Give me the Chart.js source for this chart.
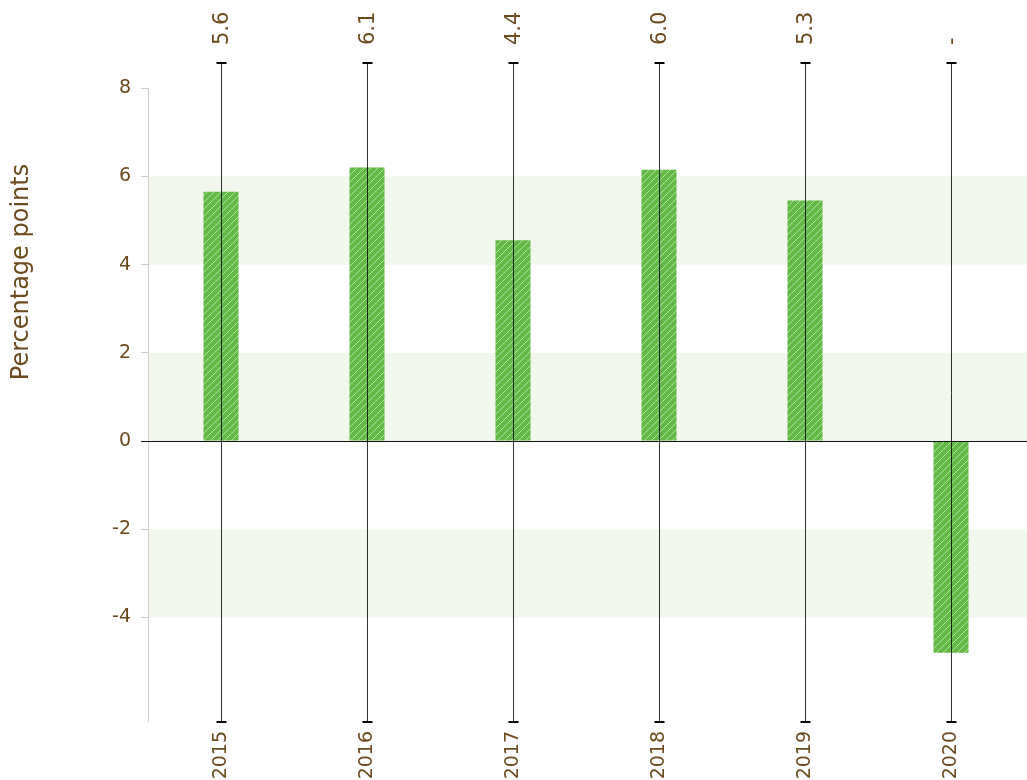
<!DOCTYPE html>
<html>
<head>
<meta charset="utf-8">
<script src="https://cdn.jsdelivr.net/npm/chart.js@4"></script>
<style>
  body { margin: 0; background: #fff; }
  #wrap { width: 1027px; height: 780px; position: relative; }
</style>
</head>
<body>
<div id="wrap"><canvas id="growthChart"></canvas></div>
<script>
// data
const years = ['2015', '2016', '2017', '2018', '2019', '2020'];
const growth = [5.65, 6.2, 4.55, 6.15, 5.45, -4.8];
const topLabels = ['5.6', '6.1', '4.4', '6.0', '5.3', '-'];
const yTicks = [-4, -2, 0, 2, 4, 6, 8];
const bandFrom = [4, 0, -4];
const bandTo = [6, 2, -2];

const brown = '#6b4a1e';
const fontFamily = "'DejaVu Sans', sans-serif";

// diagonal hatch on the bars
function makeHatch() {
    const c = document.createElement('canvas');
    c.width = 7;
    c.height = 7;
    const p = c.getContext('2d');
    p.fillStyle = '#63b946';
    p.fillRect(0, 0, 7, 7);
    p.strokeStyle = 'rgba(210,240,195,0.7)';
    p.lineWidth = 1;
    p.beginPath();
    p.moveTo(-1, 8);
    p.lineTo(8, -1);
    p.stroke();
    return p.createPattern(c, 'repeat');
}

const ctx = document.getElementById('growthChart').getContext('2d');

// bands, zero line, whiskers and the labels that sit outside the axes
const backdrop = {
    id: 'backdrop',
    beforeDatasetsDraw(chart) {
        const { ctx, chartArea, scales } = chart;
        const y = scales.y;
        ctx.save();
        ctx.fillStyle = '#f2f7ee';
        bandFrom.forEach((from, i) => {
            const top = y.getPixelForValue(bandTo[i]);
            const bottom = y.getPixelForValue(from);
            ctx.fillRect(chartArea.left, top, chart.width - chartArea.left, bottom - top);
        });
        // axis line from 8 down
        ctx.strokeStyle = '#cccccc';
        ctx.lineWidth = 1;
        ctx.beginPath();
        ctx.moveTo(chartArea.left + 0.5, y.getPixelForValue(8));
        ctx.lineTo(chartArea.left + 0.5, chartArea.bottom);
        ctx.stroke();
        ctx.restore();
    },
    afterDatasetsDraw(chart) {
        const { ctx, chartArea, scales } = chart;
        const x = scales.x;
        const y0 = Math.round(scales.y.getPixelForValue(0)) + 0.5;
        ctx.save();
        ctx.strokeStyle = '#111';
        ctx.lineWidth = 1;
        ctx.beginPath();
        ctx.moveTo(chartArea.left - 7, y0);
        ctx.lineTo(chart.width, y0);
        ctx.stroke();
        years.forEach((yr, i) => {
            const px = Math.round(x.getPixelForValue(i)) + 0.5;
            ctx.strokeStyle = 'rgba(0,0,0,0.8)';
            ctx.lineWidth = 1;
            ctx.beginPath();
            ctx.moveTo(px, chartArea.top);
            ctx.lineTo(px, chartArea.bottom);
            ctx.stroke();
            ctx.strokeStyle = '#000';
            ctx.lineWidth = 2;
            ctx.beginPath();
            ctx.moveTo(px - 5, chartArea.top);
            ctx.lineTo(px + 5, chartArea.top);
            ctx.moveTo(px - 5, chartArea.bottom);
            ctx.lineTo(px + 5, chartArea.bottom);
            ctx.stroke();

            // value label above the whisker, reading upwards
            ctx.save();
            ctx.translate(px + 1, chartArea.top - 18);
            ctx.rotate(-Math.PI / 2);
            ctx.fillStyle = brown;
            ctx.font = '21px ' + fontFamily;
            ctx.textAlign = 'left';
            ctx.textBaseline = 'middle';
            ctx.fillText(topLabels[i], 0, 0);
            ctx.restore();
        });
        ctx.restore();
    },
    afterDraw(chart) {
        const { ctx } = chart;
        ctx.save();
        ctx.translate(22, 272);
        ctx.rotate(-Math.PI / 2);
        ctx.fillStyle = brown;
        ctx.font = '24px ' + fontFamily;
        ctx.textAlign = 'center';
        ctx.textBaseline = 'middle';
        ctx.fillText('Percentage points', 0, 0);
        ctx.restore();
    }
};

new Chart(ctx, {
    type: 'bar',
    data: {
        labels: years,
        datasets: [{
            data: growth,
            backgroundColor: makeHatch(),
            borderWidth: 0,
            barPercentage: 0.24,
            categoryPercentage: 1
        }]
    },
    options: {
        responsive: true,
        maintainAspectRatio: false,
        animation: false,
        layout: { padding: { left: 0, right: 3, top: 63, bottom: 0 } },
        plugins: {
            legend: { display: false },
            tooltip: { enabled: false }
        },
        scales: {
            x: {
                position: 'bottom',
                offset: true,
                grid: { display: false },
                border: { display: false },
                ticks: {
                    minRotation: 90,
                    maxRotation: 90,
                    padding: 1,
                    color: brown,
                    font: { family: fontFamily, size: 19 }
                },
                afterFit(scale) { scale.height = 58; }
            },
            y: {
                min: -6.37,
                max: 8.57,
                afterBuildTicks(scale) {
                    scale.ticks = yTicks.map(v => ({ value: v }));
                },
                grid: {
                    drawOnChartArea: false,
                    drawTicks: true,
                    tickLength: 7,
                    color: '#cccccc'
                },
                border: { display: false },
                ticks: {
                    padding: 10,
                    color: brown,
                    font: { family: fontFamily, size: 19 }
                },
                afterFit(scale) { scale.width = 148; }
            }
        }
    },
    plugins: [backdrop]
});
</script>
</body>
</html>
